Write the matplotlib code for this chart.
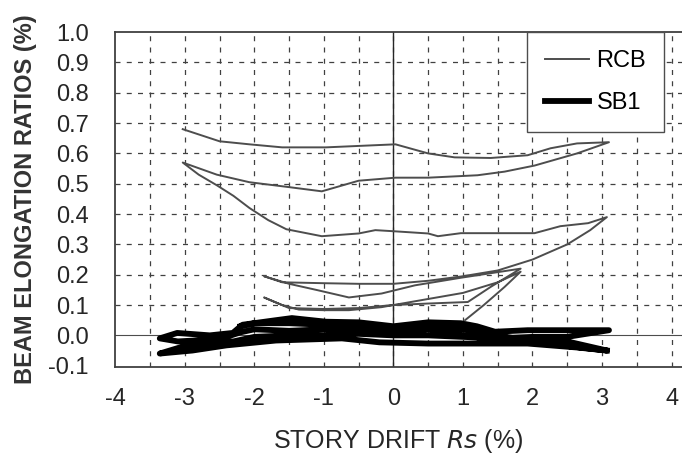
import numpy as np
import matplotlib
matplotlib.use("Agg")
import matplotlib.pyplot as plt
from matplotlib.lines import Line2D

plt.rcParams['font.family'] = ['Liberation Sans', 'DejaVu Sans']
plt.rcParams['axes.unicode_minus'] = False

# RCB: one continuous hysteresis path (story drift %, elongation %)
rcb_x = [1.03, 1.3, 1.6, 1.83,
         1.5, 1.0, 0.5, 0.0, -0.17, -0.64, -1.0, -1.36, -1.6, -1.86,
         -1.5, -1.0, -0.5, 0.0, 0.5, 1.07, 1.4, 1.83,
         1.4, 0.97, 0.31, -0.17, -0.64, -1.11, -1.5, -1.86,
         -1.6, -1.0, -0.5, 0.0, 0.5, 1.0, 1.5, 2.0, 2.5, 2.83, 3.07,
         2.8, 2.4, 2.03, 1.5, 0.97, 0.64, 0.5, 0.03, -0.26, -0.5, -1.03, -1.54, -1.8, -2.07, -2.3, -2.54, -2.8, -3.03,
         -2.54, -2.07, -1.54, -1.03, -0.5, 0.03, 0.5, 1.21, 1.6, 2.03, 2.64, 3.1,
         2.64, 2.26, 1.93, 1.4, 0.88, 0.5, 0.03, -0.97, -1.6, -2.07, -2.5, -3.03]
rcb_y = [0.05, 0.10, 0.16, 0.21,
         0.175, 0.14, 0.12, 0.10, 0.093, 0.083, 0.083, 0.085, 0.10, 0.125,
         0.09, 0.087, 0.09, 0.10, 0.105, 0.11, 0.16, 0.22,
         0.205, 0.19, 0.165, 0.138, 0.125, 0.15, 0.17, 0.195,
         0.175, 0.172, 0.17, 0.17, 0.18, 0.195, 0.214, 0.25, 0.30, 0.347, 0.39,
         0.37, 0.36, 0.337, 0.337, 0.337, 0.327, 0.336, 0.343, 0.347, 0.336, 0.327, 0.35, 0.38, 0.42, 0.46, 0.495, 0.53, 0.57,
         0.53, 0.505, 0.49, 0.475, 0.51, 0.52, 0.52, 0.528, 0.54, 0.56, 0.60, 0.637,
         0.633, 0.617, 0.594, 0.585, 0.587, 0.60, 0.63, 0.62, 0.62, 0.63, 0.64, 0.68]

# SB1: thick band of loops around zero
sb1_x = [3.07, 2.64, 1.93, 1.2, 0.5, -0.2, -0.74, -1.69, -2.4, -2.89, -3.36,
         -3.0, -2.6, -2.3, -2.0, -1.5, -1.0, -0.5, 0.0, 0.5, 1.0, 1.5, 2.0, 2.5, 3.1,
         2.5, 1.93, 1.46, 1.2, 0.97, 0.5, 0.0, -0.5, -0.97, -1.46, -1.69, -2.17, -2.31, -2.64, -3.11, -3.36,
         -3.1, -2.7, -2.4, -2.2, -2.0, -1.5, -1.0, -0.5, 0.0, 0.5, 0.8, 1.0, 1.5, 2.0, 2.5, 3.07,
         2.5, 2.0, 1.5, 1.0, 0.5, 0.0, -0.5, -1.0, -1.5, -2.0, -2.2]
sb1_y = [-0.05, -0.04, -0.027, -0.027, -0.027, -0.023, -0.01, -0.017, -0.033, -0.05, -0.06,
         -0.035, -0.025, -0.02, -0.005, 0.0, 0.0, 0.005, 0.0, 0.0, -0.005, -0.01, -0.005, -0.005, 0.017,
         0.017, 0.017, 0.012, 0.03, 0.04, 0.043, 0.03, 0.043, 0.045, 0.057, 0.05, 0.035, 0.008, 0.0, 0.008, -0.01,
         -0.02, -0.015, -0.005, 0.01, 0.02, 0.015, 0.02, 0.015, 0.01, 0.02, 0.01, 0.0, -0.015, -0.015, -0.02, -0.05,
         -0.035, -0.02, 0.0, 0.02, 0.03, 0.02, 0.03, 0.035, 0.04, 0.04, 0.03]

x_ticks = [-4, -3, -2, -1, 0, 1, 2, 3, 4]
y_ticks = [-0.1, 0.0, 0.1, 0.2, 0.3, 0.4, 0.5, 0.6, 0.7, 0.8, 0.9, 1.0]

fig = plt.figure(figsize=(6.82, 4.59), dpi=100)
ax = fig.add_axes([0.169, 0.20, 0.831, 0.73])

ax.set_xlim(-4, 4.15)
ax.set_ylim(-0.105, 1.0)

# dashed grid every 0.5 drift and 0.1 ratio
for gx in np.arange(-3.5, 4.01, 0.5):
    ax.axvline(gx, color='0.25', lw=0.9, dashes=(4, 5), zorder=0)
for gy in np.arange(0.1, 1.0, 0.1):
    ax.axhline(gy, color='0.25', lw=0.9, dashes=(4, 5), zorder=0)
ax.axhline(0, color='0.3', lw=0.8, zorder=1)
ax.axvline(0, color='0.15', lw=1.0, zorder=1)

ax.plot(rcb_x, rcb_y, color='0.3', lw=1.4, zorder=3)
ax.plot(sb1_x, sb1_y, color='black', lw=4.2, solid_joinstyle='round', zorder=2)

ax.set_xticks(x_ticks)
ax.set_yticks(y_ticks)
ax.set_yticklabels(['%.1f' % v for v in y_ticks])
ax.tick_params(length=0, labelsize=17, colors='0.15')
ax.tick_params(axis='y', pad=19)
ax.tick_params(axis='x', pad=15)
for s in ['left', 'bottom', 'top']:
    ax.spines[s].set_color('0.25')
    ax.spines[s].set_linewidth(1.3)
ax.spines['right'].set_visible(False)

ax.set_xlabel('STORY DRIFT $\\it{Rs}$ (%)', fontsize=18, color='0.15', labelpad=12)
ax.set_ylabel('BEAM ELONGATION RATIOS (%)', fontsize=17, fontweight='bold', color='0.2', labelpad=8)

handles = [Line2D([], [], color='0.3', lw=1.4), Line2D([], [], color='black', lw=4.2)]
leg = ax.legend(handles, ['RCB', 'SB1'], loc='upper right', bbox_to_anchor=(0.968, 1.0),
                borderaxespad=0, fancybox=False, edgecolor='0.3', framealpha=1,
                fontsize=17, handlelength=1.9, handletextpad=0.3, labelspacing=0.85,
                borderpad=0.75)
leg.get_frame().set_linewidth(1.0)

fig.savefig('out.png', dpi=100)
